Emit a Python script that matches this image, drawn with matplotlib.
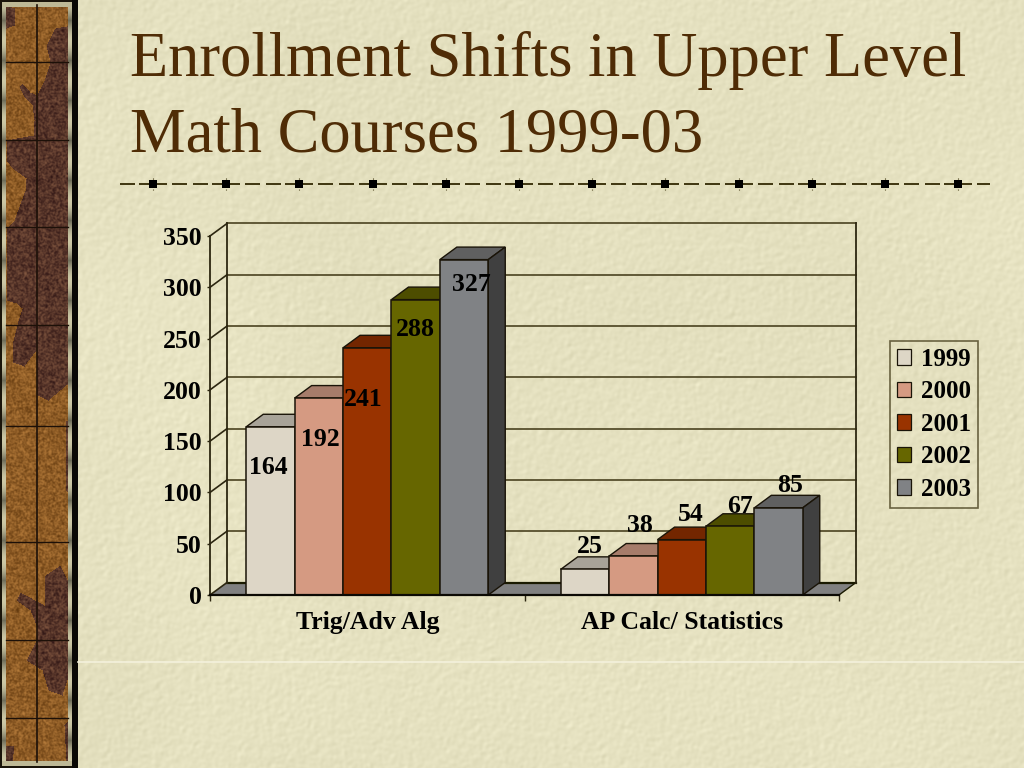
"""Enrollment shifts chart drawn as a faux 3D bar chart on a parchment slide."""

import matplotlib
matplotlib.use("Agg")
import matplotlib.pyplot as plt
import numpy as np
from matplotlib.path import Path
from matplotlib.patches import Polygon

W, H = 1024, 768
SERIF = "Liberation Serif"

# chart data
courses = ["Trig/Adv Alg", "AP Calc/ Statistics"]
years = ["1999", "2000", "2001", "2002", "2003"]
trig_values = [164, 192, 241, 288, 327]
calc_values = [25, 38, 54, 67, 85]
y_ticks = [0, 50, 100, 150, 200, 250, 300, 350]

# styles
front_colors = ["#ddd6c6", "#d59a82", "#993300", "#666600", "#808285"]
top_colors = ["#a8a398", "#a67c6a", "#732600", "#4d4d00", "#606060"]
side_colors = ["#a09a8c", "#a07260", "#662200", "#444400", "#404040"]
# label offsets in pixels from the bar's top centre
trig_offsets = [(-2, -41), (2, -41), (-4, -52), (0, -30), (7, -25)]
calc_offsets = [(5, 23), (7, 31), (9, 25), (10, 20), (12, 22)]


def noise(h, w, radius, seed):
    """Smoothed hash noise scaled to roughly -1..1, deterministic."""
    yy, xx = np.mgrid[0:h, 0:w]
    raw = np.sin(xx * 12.9898 + yy * 78.233 + seed) * 43758.5453
    raw = raw - np.floor(raw) - 0.5
    if radius > 0:
        fy = np.fft.fftfreq(h)[:, None]
        fx = np.fft.fftfreq(w)[None, :]
        kernel = np.exp(-2 * (np.pi * radius) ** 2 * (fx ** 2 + fy ** 2))
        raw = np.fft.ifft2(np.fft.fft2(raw) * kernel).real
    return raw / (raw.std() * 2.5)


def make_paper():
    fine = noise(H, W, 1.6, 1.0)
    relief = fine - np.roll(np.roll(fine, 2, axis=0), 2, axis=1)
    broad = noise(H, W, 45, 2.0)
    base = np.array([229, 225, 192], dtype=float)
    shade = 6 * relief + 3 * broad
    return np.clip(base + shade[..., None] * np.array([1, 1, 1.1]), 0, 255) / 255


def make_sidebar():
    """Brown leather strip with purple blotches, 0-78 px wide."""
    blotches = [
        [(72, 25), (55, 28), (46, 45), (50, 62), (44, 80), (37, 95), (30, 92), (22, 83),
         (19, 86), (24, 97), (32, 105), (34, 120), (33, 135), (6, 140), (6, 160), (12, 168),
         (26, 178), (25, 190), (14, 220), (6, 228), (6, 300), (16, 303), (22, 308), (18, 320),
         (13, 340), (12, 362), (24, 366), (36, 350), (37, 395), (48, 400), (72, 380)],
        [(6, 5), (14, 8), (14, 25), (6, 28)],
        [(60, 565), (45, 575), (44, 605), (20, 592), (16, 600), (30, 610), (36, 625),
         (36, 640), (26, 660), (42, 670), (48, 690), (62, 695), (72, 665), (72, 590)],
        [(66, 420), (72, 420), (72, 500), (66, 490)],
        [(6, 745), (14, 745), (12, 762), (6, 762)],
        [(64, 725), (72, 715), (72, 762), (66, 762)],
    ]
    yy, xx = np.mgrid[0:H, 0:78]
    pts = np.column_stack([xx.ravel(), yy.ravel()])
    mask = np.zeros(H * 78)
    for poly in blotches:
        mask = np.maximum(mask, Path(poly).contains_points(pts).astype(float))
    mask = mask.reshape(H, 78)[..., None]
    brown = np.array([142, 92, 38], dtype=float)
    purple = np.array([88, 54, 42], dtype=float)
    grain = noise(H, 78, 0.7, 3.0)[..., None]
    img = brown * (1 - mask) + purple * mask + grain * np.array([30, 24, 16])
    img = np.clip(img, 0, 255)
    # bead strip on the outer edges, black band on the right
    beads = 0.55 + 0.45 * np.abs(np.cos(np.arange(H) * np.pi / 40))[:, None]
    strip = np.array([205, 200, 165])[None, None, :] * beads[..., None]
    img[:, 2:6] = strip
    img[:, 68:72] = strip
    img[:, :2] = (25, 20, 10)
    img[:, 72:] = (10, 8, 5)
    img[:2, :72] = (25, 20, 10)
    img[2:7, 2:72] = (190, 185, 150)
    img[761:766, 2:72] = (190, 185, 150)
    img[766:, :72] = (25, 20, 10)
    return img / 255


fig = plt.figure(figsize=(W / 100, H / 100), dpi=100)

# slide background in pixel coordinates
bg = fig.add_axes([0, 0, 1, 1])
bg.set_xlim(0, W)
bg.set_ylim(H, 0)
bg.axis("off")
bg.imshow(make_paper(), extent=(0, W, H, 0), aspect="auto", interpolation="bilinear")
bg.imshow(make_sidebar(), extent=(0, 78, H, 0), aspect="auto", interpolation="bilinear")
bg.set_xlim(0, W)
bg.set_ylim(H, 0)
for y in [62, 140, 227, 325, 426, 542, 640, 718]:
    bg.plot([6, 68], [y, y], color="#1c1008", lw=1.0)
bg.plot([36.5, 36.5], [5, 762], color="#1c1008", lw=1.2)
bg.plot([78, W], [662, 662], color="#f4f1dc", lw=1.2)

# title
bg.text(130, 76, "Enrollment Shifts in Upper Level", family=SERIF, fontsize=45,
        color="#4f2c06", ha="left", va="baseline")
bg.text(130, 151, "Math Courses 1999-03", family=SERIF, fontsize=45,
        color="#4f2c06", ha="left", va="baseline")

# dashed rule with square stops
rule_y = 184
stops = np.arange(153, 990, 73.2)
for x in stops:
    for a, b in [(-14, 14), (19, 34), (40, 55)]:
        if x + a < 990:
            bg.plot([x + a, min(x + b, 990)], [rule_y, rule_y], color="#3f3610", lw=1.4,
                    solid_capstyle="butt")
    bg.plot([x], [rule_y], marker="s", ms=5.2, color="black", mew=0)
    bg.plot([x, x], [rule_y - 6, rule_y + 6], color="#3f3610", lw=0.8, ls=(0, (1, 9)))
bg.plot([120, 135], [rule_y, rule_y], color="#3f3610", lw=1.4, solid_capstyle="butt")

# chart axes: x runs over two category slots
ax = fig.add_axes([210 / W, (H - 595) / H, 629 / W, 359 / H])
ax.patch.set_alpha(0)
ax.set_xlim(0, 2)
ax.set_ylim(0, 350)
dx = 17 / 629 * 2
dy = 12.5 / 359 * 350
line = "#2c2610"

# floor and walls
ax.add_patch(Polygon([(0, 0), (2, 0), (2 + dx, dy), (dx, dy)], fc="#808080", ec="none",
                     clip_on=False, zorder=1))
ax.plot([dx, 2 + dx], [dy, dy], color="#1a1a00", lw=1.6, clip_on=False, zorder=1.5)
ax.plot([2, 2 + dx], [0, dy], color="#1a1a00", lw=1.0, clip_on=False, zorder=1.5)
for v in y_ticks[1:]:
    ax.plot([dx, 2 + dx], [v + dy, v + dy], color="#4a4220", lw=1.2, clip_on=False, zorder=1)
for v in y_ticks:
    ax.plot([0, dx], [v, v + dy], color=line, lw=1.2, clip_on=False, zorder=1.5)
ax.plot([dx, dx], [dy, 350 + dy], color=line, lw=1.3, clip_on=False, zorder=1.5)
ax.plot([2 + dx, 2 + dx], [dy, 350 + dy], color=line, lw=1.3, clip_on=False, zorder=1.5)

# bars, left to right so the later ones overlap the earlier tops
bar_w = 48.4 / 314.5
handles = []
for group, (values, offsets) in enumerate([(trig_values, trig_offsets), (calc_values, calc_offsets)]):
    for i, v in enumerate(values):
        x0 = group + 0.5 + (i - 2.5) * bar_w
        x1 = x0 + bar_w
        ax.add_patch(Polygon([(x0, v), (x1, v), (x1 + dx, v + dy), (x0 + dx, v + dy)],
                             fc=top_colors[i], ec="#1a1408", lw=1.0, zorder=2 + i * 0.1,
                             clip_on=False))
        ax.add_patch(Polygon([(x1, 0), (x1 + dx, dy), (x1 + dx, v + dy), (x1, v)],
                             fc=side_colors[i], ec="#1a1408", lw=1.0, zorder=2 + i * 0.1,
                             clip_on=False))
        bar = ax.bar(x0, v, width=bar_w, align="edge", color=front_colors[i], edgecolor="#1a1408",
                     linewidth=1.1, zorder=2.05 + i * 0.1, clip_on=False)
        if group == 0:
            handles.append(bar[0])

# value labels, kept in a second loop so they sit over every bar
for group, (values, offsets) in enumerate([(trig_values, trig_offsets), (calc_values, calc_offsets)]):
    for i, v in enumerate(values):
        cx = group + 0.5 + (i - 2) * bar_w
        ax.annotate(str(v), (cx, v), xytext=offsets[i], textcoords="offset pixels",
                    ha="center", va="center", family=SERIF, fontweight="bold",
                    fontsize=18.5, color="black", zorder=5, annotation_clip=False)

# axes styling
for side in ["top", "right"]:
    ax.spines[side].set_visible(False)
ax.spines["left"].set_color(line)
ax.spines["left"].set_linewidth(1.3)
ax.spines["bottom"].set_color("#0c0a04")
ax.spines["bottom"].set_linewidth(1.6)
for s in ax.spines.values():
    s.set_zorder(4)
ax.set_yticks(y_ticks)
ax.set_xticks([0, 1, 2])
ax.set_xticklabels([])
ax.set_xticks([0.5, 1.5], courses, minor=True)
ax.tick_params(axis="y", length=2.5, width=1.0, color=line, pad=3.5)
ax.tick_params(axis="x", which="major", length=4, width=1.0, color=line)
ax.tick_params(axis="x", which="minor", length=0, pad=11.5)
for t in ax.get_yticklabels() + ax.get_xticklabels(minor=True):
    t.set_family(SERIF)
    t.set_fontweight("bold")
    t.set_fontsize(18.5)
    t.set_color("black")

# legend box
leg = fig.legend(handles, years, loc="upper left",
                 bbox_to_anchor=(890 / W, 1 - 341 / H), bbox_transform=fig.transFigure,
                 prop={"family": SERIF, "weight": "bold", "size": 18},
                 frameon=True, fancybox=False, edgecolor="#4a4220", facecolor="none",
                 borderaxespad=0, borderpad=0.27, labelspacing=0.38,
                 handlelength=0.58, handleheight=0.58, handletextpad=0.38)
leg.get_frame().set_linewidth(1.2)
for patch in leg.get_patches():
    patch.set_linewidth(0.9)

fig.savefig("out.png", dpi=100)
